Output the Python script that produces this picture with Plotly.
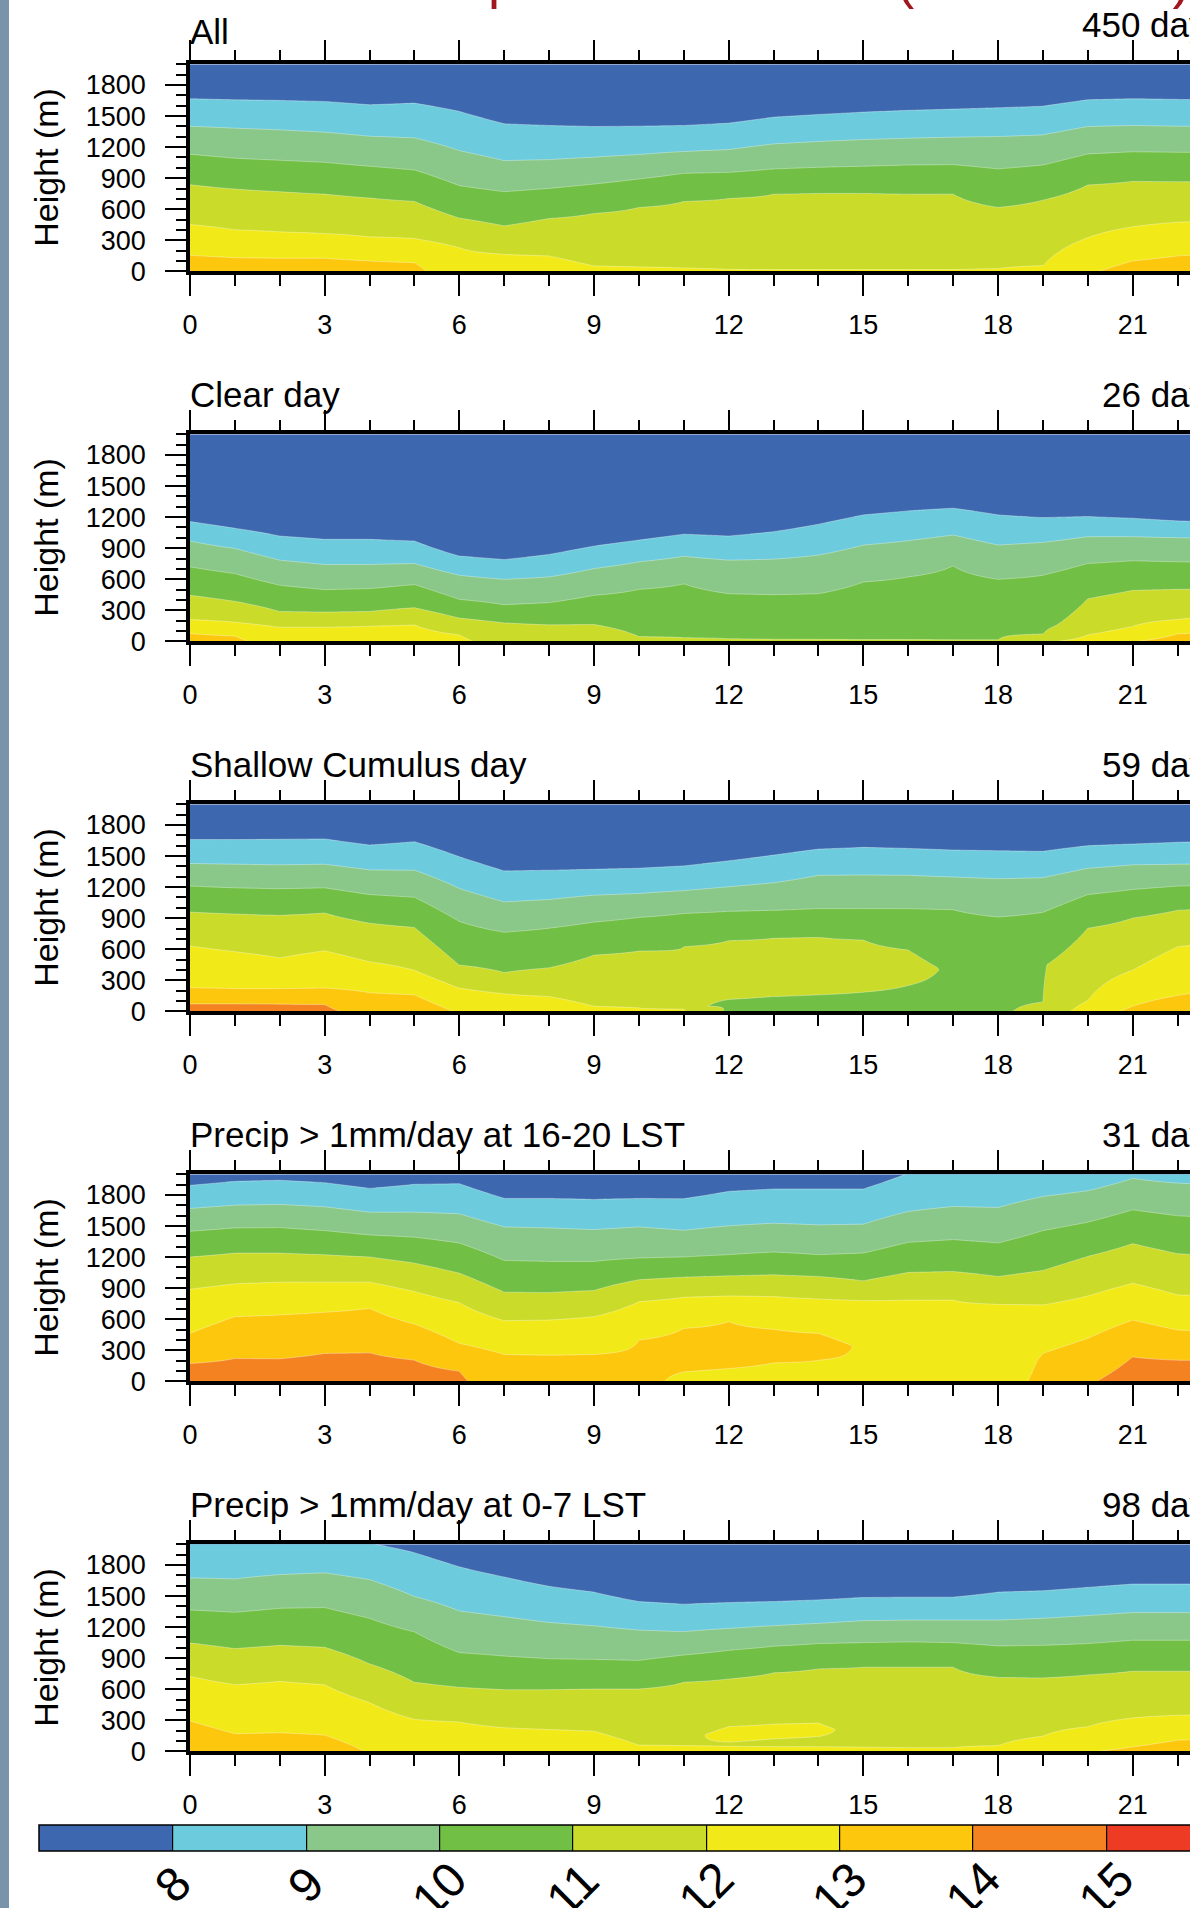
import numpy as np
import plotly.graph_objects as go

# ---------------- data ----------------
HOURS = list(range(24))
CB_LEVELS = [8, 9, 10, 11, 12, 13, 14, 15]
COLORS = ["#3d68b0", "#6ccbdc", "#89c889", "#71bf44", "#cbdb2a",
          "#f2ea18", "#fdc70e", "#f58220", "#ee3b24"]
TITLES = ["All", "Clear day", "Shallow Cumulus day",
          "Precip > 1mm/day at 16-20 LST", "Precip > 1mm/day at 0-7 LST"]
DAYS = ["450 days", "26 days", "59 days", "31 days", "98 days"]
X_TICKS = [0, 3, 6, 9, 12, 15, 18, 21]
Y_TICKS = [0, 300, 600, 900, 1200, 1500, 1800]
N = None

# Height (m) of each isoline (g/kg) per hour; surface value per hour
A_8 = [1667,1657,1651,1641,1609,1625,1545,1425,1409,1399,1402,1409,1431,1489,1515,1538,1555,1567,1580,1595,1657,1667,1661,1655]
A_9 = [1402,1383,1367,1344,1305,1289,1166,1069,1079,1102,1128,1157,1176,1231,1254,1273,1286,1296,1302,1318,1399,1409,1402,1400]
A_10 = [1131,1092,1073,1053,1015,979,827,769,801,843,892,947,956,989,1005,1015,1027,1031,989,1027,1134,1155,1150,1148]
A_11 = [837,795,769,746,708,675,514,439,510,559,617,675,704,746,753,753,746,746,617,688,834,869,866,866]
A_12 = [452,401,381,365,333,317,229,165,149,52,42,32,19,16,16,16,16,16,26,55,325,430,475,485]
A_13 = [155,132,126,126,100,84,N,N,N,N,N,N,N,N,N,N,N,N,N,N,N,100,149,170]
A_SFC = [13.5,13.4,13.4,13.4,13.3,13.25,12.3,12.25,12.3,12.1,12.1,12.08,12.05,12.04,12.04,12.04,12.04,12.04,12.06,12.2,12.9,13.3,13.4,13.45]
A_EXTRA = {}

C_8 = [1157,1092,1017,985,985,969,823,790,839,920,978,1035,1017,1059,1131,1221,1260,1286,1221,1195,1205,1189,1163,1150]
C_9 = [969,897,784,742,742,752,638,599,622,703,768,821,784,794,833,930,972,1027,930,956,1011,1011,1001,995]
C_10 = [719,654,541,499,509,548,405,353,373,444,502,555,460,450,460,573,622,729,599,638,752,778,768,765]
C_11 = [444,386,288,282,288,324,224,178,159,162,45,35,25,20,18,16,16,15,12,70,411,492,502,505]
C_12 = [210,185,136,136,146,159,62,N,N,N,N,N,N,N,N,N,N,N,N,N,62,143,210,240]
C_13 = [75,50,N,N,N,N,N,N,N,N,N,N,N,N,N,N,N,N,N,N,N,N,71,100]
C_SFC = [13.4,13.2,12.5,12.5,12.5,12.5,12.15,11.65,11.6,11.6,11.3,11.2,11.1,11.1,11.1,11.1,11.1,11.1,11.1,11.85,12.3,12.95,13.3,13.4]
C_EXTRA = {20: [(150, 11.35)]}

S_8 = [1659,1659,1662,1665,1606,1639,1493,1356,1363,1372,1382,1405,1454,1509,1567,1584,1574,1558,1551,1545,1600,1616,1633,1640]
S_9 = [1428,1421,1415,1421,1366,1363,1187,1057,1080,1122,1138,1166,1203,1242,1314,1317,1314,1298,1281,1291,1382,1415,1421,1425]
S_10 = [1210,1193,1184,1193,1128,1102,868,764,803,862,907,945,966,976,992,992,992,982,911,956,1128,1177,1210,1220]
S_11 = [959,940,927,950,852,810,446,374,420,543,582,625,683,706,715,689,592,N,N,90,803,901,976,1000]
S_12 = [631,576,517,585,478,397,224,169,143,49,33,23,N,N,N,N,N,N,N,N,104,397,624,680]
S_13 = [228,218,218,224,179,159,N,N,N,N,N,N,N,N,N,N,N,N,N,N,N,49,153,200]
S_14 = [72,72,70,65,N,N,N,N,N,N,N,N,N,N,N,N,N,N,N,N,N,N,N,N]
S_SFC = [14.2,14.2,14.2,14.15,13.7,13.6,12.9,12.4,12.35,12.12,12.08,12.05,10.85,10.85,10.85,10.85,10.85,10.8,10.9,11.2,12.5,13.2,13.6,13.7]
S_EXTRA = {11: [(50, 11.1), (400, 11.05)],
           12: [(114, 11.0), (400, 11.35)], 13: [(143, 11.0), (420, 11.4)],
           14: [(159, 11.0), (440, 11.4)], 15: [(185, 11.0), (440, 11.3)],
           16: [(250, 11.0), (420, 11.25)], 17: [(400, 10.9)],
           18: [(400, 10.85)], 19: [(450, 10.95)]}

P_8 = [1893,1932,1942,1919,1864,1903,1909,1767,1767,1757,1767,1764,1835,1858,1858,1858,2010,2060,2060,2080,2100,2150,2120,2100]
P_9 = [1670,1702,1709,1686,1634,1634,1618,1492,1482,1466,1492,1459,1502,1527,1511,1518,1641,1689,1679,1786,1841,1961,1915,1900]
P_10 = [1450,1482,1485,1456,1414,1392,1336,1168,1158,1158,1191,1201,1223,1249,1223,1239,1343,1369,1336,1456,1537,1657,1599,1580]
P_11 = [1201,1239,1239,1223,1201,1142,1045,861,858,877,981,1006,1019,1029,1013,971,1052,1061,1013,1071,1207,1330,1233,1210]
P_12 = [890,942,958,958,958,867,760,586,592,625,770,812,825,819,796,780,786,786,744,738,825,948,835,820]
P_13 = [463,625,641,667,705,553,366,259,252,259,398,511,576,502,463,N,N,N,N,269,414,592,495,480]
P_14 = [172,220,217,269,275,204,97,N,N,N,N,N,N,N,N,N,N,N,N,N,N,236,204,200]
P_SFC = [14.4,14.4,14.4,14.5,14.5,14.4,14.12,13.52,13.5,13.5,13.2,12.85,12.85,12.85,12.9,12.95,12.9,12.88,12.9,13.05,13.9,14.4,14.4,14.4]
P_EXTRA = {11: [(91, 13.0), (300, 13.25)], 12: [(123, 13.0), (350, 13.3)],
           13: [(178, 13.0), (340, 13.25)], 14: [(204, 13.0), (330, 13.3)],
           15: [(350, 12.9)], 18: [(250, 12.85)], 19: [(200, 13.02)]}

Q_8 = [2100,2100,2100,2080,2010,1919,1782,1684,1594,1538,1447,1421,1437,1447,1463,1486,1489,1489,1538,1551,1584,1616,1616,1616]
Q_9 = [1675,1665,1707,1724,1659,1496,1356,1301,1245,1213,1171,1156,1187,1213,1236,1262,1268,1268,1268,1285,1311,1340,1340,1340]
Q_10 = [1366,1343,1382,1389,1285,1154,953,920,894,888,878,930,976,1015,1041,1050,1057,1050,1018,1024,1041,1073,1073,1073]
Q_11 = [1047,992,1024,1005,845,667,618,595,595,602,602,667,699,758,797,813,813,813,715,709,738,774,774,774]
Q_12 = [725,644,676,644,472,309,283,228,211,195,60,55,50,45,45,40,35,35,55,146,237,322,348,355]
Q_13 = [293,169,179,156,N,N,N,N,N,N,N,N,N,N,N,N,N,N,N,N,N,42,107,130]
Q_SFC = [13.6,13.45,13.45,13.4,12.95,12.6,12.5,12.45,12.4,12.4,12.2,12.15,12.12,12.12,12.12,12.12,12.12,12.12,12.2,12.4,12.95,13.15,13.35,13.4]
Q_EXTRA = {11: [(140, 11.9)], 12: [(65, 11.9), (88, 12.0), (160, 12.15), (239, 12.0)],
           13: [(62, 11.9), (120, 12.0), (190, 12.12), (262, 12.0)],
           14: [(60, 11.9), (143, 12.0), (210, 12.1), (273, 12.0)],
           15: [(200, 11.85)]}

PANELS = [
    ({8: A_8, 9: A_9, 10: A_10, 11: A_11, 12: A_12, 13: A_13}, A_SFC, A_EXTRA),
    ({8: C_8, 9: C_9, 10: C_10, 11: C_11, 12: C_12, 13: C_13}, C_SFC, C_EXTRA),
    ({8: S_8, 9: S_9, 10: S_10, 11: S_11, 12: S_12, 13: S_13, 14: S_14}, S_SFC, S_EXTRA),
    ({8: P_8, 9: P_9, 10: P_10, 11: P_11, 12: P_12, 13: P_13, 14: P_14}, P_SFC, P_EXTRA),
    ({8: Q_8, 9: Q_9, 10: Q_10, 11: Q_11, 12: Q_12, 13: Q_13}, Q_SFC, Q_EXTRA),
]

# ---------------- field construction ----------------
ZH = np.linspace(0, 2000, 397)


def column(iso, sfc, extra, i):
    knots = [(0.0, float(sfc[i]))]
    for lev, arr in iso.items():
        v = arr[i]
        if v is not None and v > 0:
            knots.append((float(v), float(lev)))
    knots += [(float(a), float(b)) for a, b in extra.get(i, [])]
    knots.sort()
    hs = np.array([k[0] for k in knots])
    vs = np.array([k[1] for k in knots])
    z = np.interp(ZH, hs, vs)
    if hs[-1] < ZH[-1]:
        slope = (vs[-1] - vs[-2]) / (hs[-1] - hs[-2])
        m = ZH > hs[-1]
        z[m] = vs[-1] + slope * (ZH[m] - hs[-1])
    return z


def field(iso, sfc, extra):
    return np.stack([column(iso, sfc, extra, i) for i in HOURS], axis=1)


# ---------------- layout ----------------
W, H = 1190, 1908
X0 = 190
PX_PER_HOUR = 44.89
TOPS = [64.3, 434.3, 804.3, 1174.3, 1544.3]
PH = 207.0
FONT = "Liberation Sans, Arial, Helvetica, sans-serif"
CB_X0, CB_BOX = 39.0, 133.33

colorscale = [[j / 8, c] for j, c in enumerate(COLORS)]

fig = go.Figure()
layout = {}
annotations = []
fields = []

for p, (iso, sfc, extra) in enumerate(PANELS):
    n = p + 1
    xs = "" if n == 1 else str(n)
    z = field(iso, sfc, extra)
    fields.append(z)
    fig.add_trace(go.Contour(
        x=HOURS, y=ZH, z=z,
        xaxis="x" + xs, yaxis="y" + xs,
        autocontour=False,
        contours=dict(start=8, end=15, size=1, coloring="fill", showlines=True),
        colorscale=colorscale, zmin=7, zmax=16,
        line=dict(width=0.8, color="rgba(255,255,255,0.45)", smoothing=0),
        showscale=False,
        hoverinfo="skip",
    ))

    top = TOPS[p]
    layout["xaxis" + xs] = dict(
        domain=[X0 / W, 1.0], range=[0, (W - X0) / PX_PER_HOUR], anchor="y" + xs,
        tickmode="array", tickvals=X_TICKS, ticktext=[str(v) for v in X_TICKS],
        ticks="outside", ticklen=21, tickwidth=2, tickcolor="black",
        minor=dict(tick0=0, dtick=1, ticks="outside", ticklen=11, tickwidth=1.5,
                   tickcolor="black", showgrid=False),
        showline=True, linewidth=3.5, linecolor="black", mirror="ticks",
        showgrid=False, zeroline=False, automargin=False,
        tickfont=dict(family=FONT, size=27, color="black"),
        ticklabelstandoff=6,
    )
    layout["yaxis" + xs] = dict(
        domain=[1 - (top + PH) / H, 1 - top / H], range=[0, 2000], anchor="x" + xs,
        tickmode="array", tickvals=Y_TICKS, ticktext=[str(v) for v in Y_TICKS],
        ticks="outside", ticklen=21, tickwidth=2, tickcolor="black",
        minor=dict(tick0=0, dtick=100, ticks="outside", ticklen=10, tickwidth=1.5,
                   tickcolor="black", showgrid=False),
        showline=True, linewidth=3.5, linecolor="black", mirror=False,
        showgrid=False, zeroline=False, automargin=False,
        tickfont=dict(family=FONT, size=27, color="black"),
        ticklabelstandoff=14,
    )
    left_off = 32.5 if p == 0 else 39.5
    right_off = 40.0 if p == 0 else 39.5
    annotations.append(dict(xref="paper", yref="paper", x=188 / W, y=1 - (top - left_off) / H,
                            xanchor="left", yanchor="middle", showarrow=False,
                            text=TITLES[p], font=dict(family=FONT, size=35, color="black")))
    annotations.append(dict(xref="paper", yref="paper", x=(1080 if p == 0 else 1100) / W,
                            y=1 - (top - right_off) / H,
                            xanchor="left", yanchor="middle", showarrow=False,
                            text=DAYS[p], font=dict(family=FONT, size=35, color="black")))
    annotations.append(dict(xref="paper", yref="paper", x=46 / W, y=1 - (top + PH / 2) / H,
                            xanchor="center", yanchor="middle", showarrow=False, textangle=-90,
                            text="Height (m)", font=dict(family=FONT, size=34, color="black")))

# colour bar: carried by a copy of the first panel placed on an axis pair that shows nothing
fig.add_trace(go.Contour(
    x=HOURS, y=ZH, z=fields[0], xaxis="x6", yaxis="y6",
    autocontour=False,
    contours=dict(start=8, end=15, size=1, coloring="fill", showlines=True),
    colorscale=colorscale, zmin=7, zmax=16,
    line=dict(width=1.2, color="black", smoothing=0),
    hoverinfo="skip", showscale=True,
    colorbar=dict(
        orientation="h", x=CB_X0 / W, xanchor="left",
        y=1 - 1825 / H, yanchor="top",
        len=9 * CB_BOX, lenmode="pixels", thickness=26, thicknessmode="pixels",
        outlinewidth=1.5, outlinecolor="black",
        tickmode="array", tickvals=CB_LEVELS, ticks="", showticklabels=False,
        xpad=0, ypad=0,
    ),
))
layout["xaxis6"] = dict(domain=[0, 0.01], range=[100, 101], visible=False, anchor="y6")
layout["yaxis6"] = dict(domain=[0, 0.01], range=[-5000, -4000], visible=False, anchor="x6")

# colour-bar labels, rotated and centred on the band boundaries
for lev in CB_LEVELS:
    cx = CB_X0 + (lev - 7) * CB_BOX
    cy = 1884 if lev < 10 else 1889
    annotations.append(dict(xref="paper", yref="paper", x=cx / W, y=1 - cy / H,
                            xanchor="center", yanchor="middle", showarrow=False,
                            textangle=-45, text=str(lev),
                            font=dict(family=FONT, size=48, color="black")))

# main title (mostly above the visible page)
annotations.append(dict(xref="paper", yref="paper", x=372 / W, y=1 + 21 / H,
                        xanchor="left", yanchor="middle", showarrow=False,
                        text="Composite Humid Air (2012-2017)",
                        font=dict(family=FONT, size=54, color="#a0181e")))

fig.update_layout(
    width=W, height=H, margin=dict(l=0, r=0, t=0, b=0, autoexpand=False),
    paper_bgcolor="white", plot_bgcolor="white",
    showlegend=False, annotations=annotations,
    shapes=[dict(type="rect", xref="paper", yref="paper", x0=0, x1=9 / W, y0=0, y1=1,
                 fillcolor="#7893aa", line=dict(width=0), layer="above")],
    **layout,
)

fig.write_html("out.html")
